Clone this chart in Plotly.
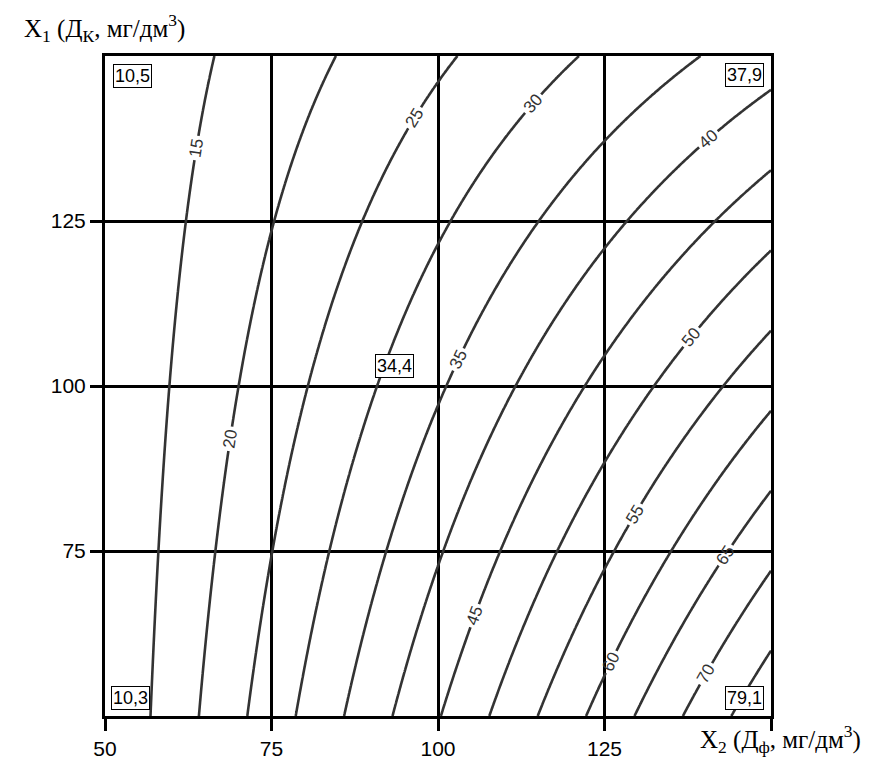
import numpy as np
import plotly.graph_objects as go

# regression in coded units: x1 = (X1-100)/50, x2 = (X2-100)/50
# y = b0 + b1*x1 + b2*x2 + b12*x1*x2 + b11*x1^2 + b22*x2^2
coef_names = ["b0", "b1", "b2", "b12", "b11", "b22"]
coef_values = [34.4, -10.25, 24.05, -10.35, 0.05, 0.0]

levels_start, levels_end, levels_step = 15, 75, 5

# boxed values (X2, X1, text)
box_x2 = [54.2, 146.0, 53.8, 146.0, 93.5]
box_x1 = [147.0, 147.1, 52.7, 52.8, 103.1]
box_text = ["10,5", "37,9", "10,3", "79,1", "34,4"]

x_ticks = [50, 75, 100, 125, 150]
x_ticktext = ["50", "75", "100", "125", ""]
y_ticks = [75, 100, 125]

b = dict(zip(coef_names, coef_values))
X2 = np.linspace(50, 150, 301)
X1 = np.linspace(50, 150, 301)
g2, g1 = np.meshgrid(X2, X1)
c1 = (g1 - 100) / 50
c2 = (g2 - 100) / 50
Z = (b["b0"] + b["b1"] * c1 + b["b2"] * c2 + b["b12"] * c1 * c2
     + b["b11"] * c1 ** 2 + b["b22"] * c2 ** 2)

LINE = "#333333"

fig = go.Figure(
    go.Contour(
        x=X2, y=X1, z=Z,
        contours=dict(
            start=levels_start, end=levels_end, size=levels_step,
            coloring="lines", showlabels=True,
            labelfont=dict(family="Liberation Sans, Arial", size=17, color=LINE),
        ),
        colorscale=[[0, LINE], [1, LINE]],
        line=dict(width=2.6),
        showscale=False,
        hoverinfo="skip",
    )
)

for x, y, t in zip(box_x2, box_x1, box_text):
    fig.add_annotation(
        x=x, y=y, text=t, showarrow=False,
        font=dict(family="Liberation Sans, Arial", size=18, color="black"),
        bgcolor="white", bordercolor="black", borderwidth=1, borderpad=1,
    )

title_font = dict(family="Liberation Serif, Times New Roman", size=25, color="black")
fig.add_annotation(
    xref="paper", yref="paper", x=-0.125, y=1.042, xanchor="left", yanchor="middle",
    text="X<sub>1</sub> (Д<sub>К</sub>, мг/дм<sup>3</sup>)", showarrow=False, font=title_font,
)
fig.add_annotation(
    xref="paper", yref="paper", x=0.890, y=-0.035, xanchor="left", yanchor="middle",
    text="X<sub>2</sub> (Д<sub>ф</sub>, мг/дм<sup>3</sup>)", showarrow=False, font=title_font,
)

axis_common = dict(
    showline=True, linecolor="black", linewidth=3, mirror=True,
    showgrid=True, gridcolor="black", gridwidth=3,
    zeroline=False,
    ticks="outside", ticklen=12, tickwidth=3, tickcolor="black",
    tickfont=dict(family="Liberation Sans, Arial", size=21, color="black"),
)

fig.update_xaxes(range=[50, 150], tickmode="array", tickvals=x_ticks,
                 ticktext=x_ticktext, **axis_common)
fig.update_yaxes(range=[50, 150], tickmode="array", tickvals=y_ticks, **axis_common)

# page body adds 8px, so the figure is a bit smaller than the window
fig.update_layout(
    width=868, height=764,
    margin=dict(l=97, r=105, t=48, b=51),
    paper_bgcolor="white", plot_bgcolor="white",
    showlegend=False,
)

fig.write_html("out.html")
